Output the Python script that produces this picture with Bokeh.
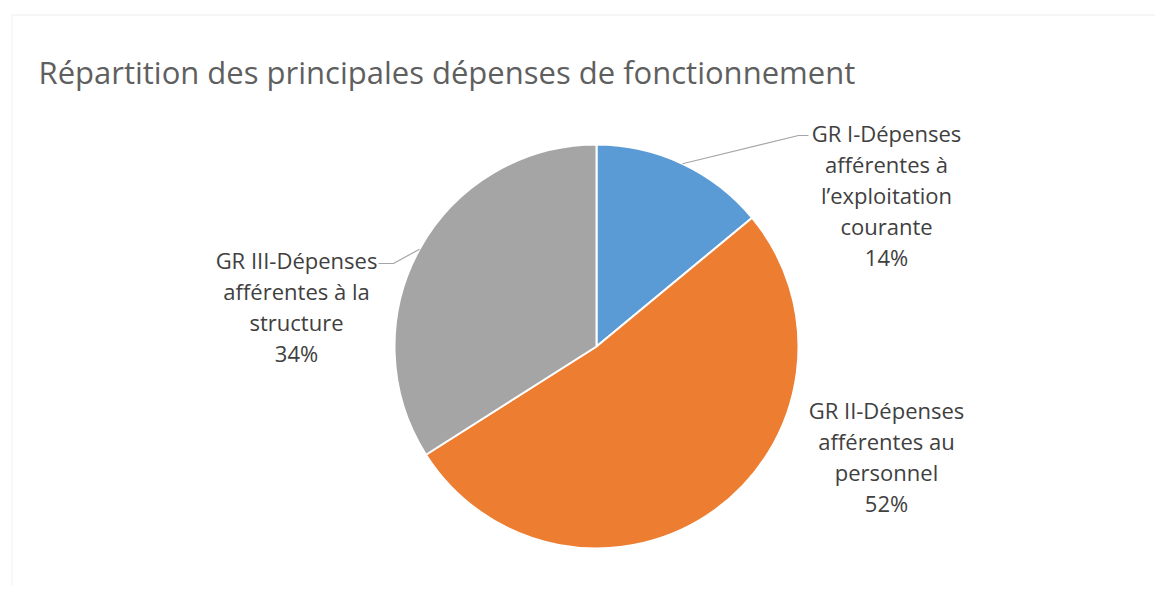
import math
from bokeh.plotting import figure
from bokeh.models import Range1d, ColumnDataSource, BoxAnnotation
from bokeh.core.properties import value
from bokeh.embed import file_html
from bokeh.resources import INLINE

# ---- data ----
title = "Répartition des principales dépenses de fonctionnement"
categories = [
    "GR I-Dépenses\nafférentes à\nl’exploitation\ncourante",
    "GR II-Dépenses\nafférentes au\npersonnel",
    "GR III-Dépenses\nafférentes à la\nstructure",
]
shares = [14, 52, 34]
colors = ["#5B9BD5", "#ED7D31", "#A5A5A5"]

# ---- layout (page pixel coordinates) ----
W, H = 1155, 585
def py(y):  # page y (from top) -> data y (from bottom)
    return (H + 8) - y

CX, CY, R = 596, 346, 202
label_pos = [(886, 132), (886, 409), (296, 259)]   # centre x, first line y
leader_elbow = [(798, 135), None, (393, 263)]
leader_end = [(808, 135), None, (378, 263)]
LINE_H = 31

p = figure(width=W, height=H, output_backend="svg", toolbar_location=None,
           x_range=Range1d(0, W), y_range=Range1d(8, 8 + H),
           x_axis_type=None, y_axis_type=None, min_border=0,
           outline_line_color=None, background_fill_color="white",
           border_fill_color="white")
p.grid.visible = False

# chart border
p.add_layout(BoxAnnotation(left=11.5, right=1300, top=py(14.5), bottom=-100,
                           fill_color=None, line_color="#D9D9D9", line_width=1.5))

# title
p.text(x=[38], y=[py(71)], text=[title], text_font=value("Open Sans"),
       text_font_size="31px", text_color="#5F5F5F", text_baseline="middle",
       text_align="left")

# pie
total = sum(shares)
cum = 0.0
starts, ends, mids = [], [], []
for s in shares:
    a0 = math.pi / 2 - 2 * math.pi * cum / total
    cum += s
    a1 = math.pi / 2 - 2 * math.pi * cum / total
    starts.append(a0)
    ends.append(a1)
    mids.append((a0 + a1) / 2)

src = ColumnDataSource(dict(start=starts, end=ends, color=colors))
p.wedge(x=CX, y=py(CY), radius=R, start_angle="start", end_angle="end",
        direction="clock", fill_color="color", line_color="white",
        line_width=2, source=src)

# labels
for i, (cat, s) in enumerate(zip(categories, shares)):
    lines = cat.split("\n") + [f"{s}%"]
    lx, ly = label_pos[i]
    xs = [lx] * len(lines)
    ys = [py(ly + k * LINE_H) for k in range(len(lines))]
    p.text(x=xs, y=ys, text=lines, text_font=value("Open Sans"),
           text_font_size="22px", text_color="#404040",
           text_align="center", text_baseline="middle")
    if leader_elbow[i] is not None:
        sx = CX + R * math.cos(mids[i])
        sy = CY - R * math.sin(mids[i])
        ex, ey = leader_elbow[i]
        fx, fy = leader_end[i]
        p.line(x=[sx, ex, fx], y=[py(sy), py(ey), py(fy)],
               line_color="#A6A6A6", line_width=1.2)

open("out.html", "w").write(file_html(p, INLINE))
